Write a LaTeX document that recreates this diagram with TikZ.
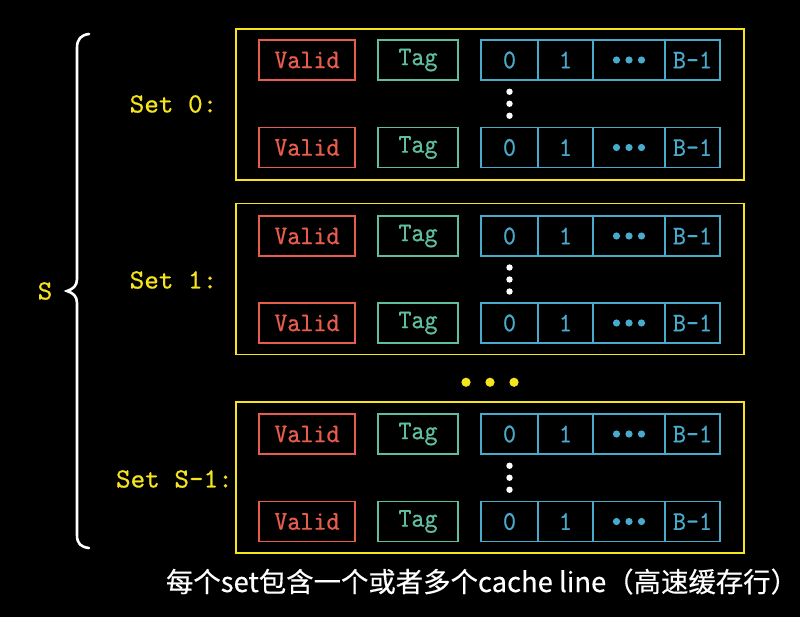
\documentclass[tikz,border=0pt]{standalone}
\usepackage{fontspec}
\newfontfamily\boxfont{lmmono10-regular}[Extension=.otf, FakeStretch=0.92, FakeBold=0.6]
\newfontfamily\lblfont{lmmono10-regular}[Extension=.otf, FakeBold=0.6]
\newfontfamily\cjk{Noto Sans CJK SC}[FakeBold=0.4]
\usetikzlibrary{calc}
\definecolor{ylw}{RGB}{245,228,30}
\definecolor{vred}{RGB}{232,92,76}
\definecolor{tgrn}{RGB}{96,190,160}
\definecolor{cblu}{RGB}{72,170,205}
\tikzset{
  setbox/.style={draw=ylw, line width=1.8pt, minimum width=508pt, minimum height=151pt, inner sep=0pt},
  boxtxt/.style={line width=1.6pt, inner sep=0pt, minimum height=40pt, font=\boxfont\fontsize{27}{27}\selectfont},
  validbox/.style={boxtxt, draw=vred, text=vred, minimum width=96pt},
  tagbox/.style={boxtxt, draw=tgrn, text=tgrn, minimum width=80pt},
  cellbox/.style={boxtxt, draw=cblu, text=cblu},
  setlbl/.style={text=ylw, anchor=east, inner sep=0pt, font=\lblfont\fontsize{27.8}{28}\selectfont},
}
\newcommand\cacherow[2]{%
  \node[validbox] (#1v) at (307,#2) {Valid};
  \node[tagbox] (#1t) at (418,#2) {Tag};
  \node[cellbox, minimum width=57pt] (#1c0) at (509.5,#2) {0};
  \node[cellbox, minimum width=55pt] (#1c1) at (565.5,#2) {1};
  \node[cellbox, minimum width=72pt] (#1c2) at (629,#2) {};
  \node[cellbox, minimum width=55pt] (#1c3) at (692.5,#2) {B-1};
  \fill[cblu] ($(#1c2.center)+(-12.5,0)$) circle (3.6)
              (#1c2.center) circle (3.6)
              ($(#1c2.center)+(12.5,0)$) circle (3.6);
}
\newcommand\vdotsbetween[2]{%
  \fill[white] ($(#1c0.center)!0.5!(#2c0.center)+(0,-12)$) circle (3.2)
               ($(#1c0.center)!0.5!(#2c0.center)$) circle (3.2)
               ($(#1c0.center)!0.5!(#2c0.center)+(0,12)$) circle (3.2);
}
\begin{document}
\begin{tikzpicture}[x=1pt,y=-1pt]
  \fill[black] (0,0) rectangle (800,617);
  \useasboundingbox (0,0) rectangle (800,617);

  % set boxes
  \node[setbox] (s0) at (490,104.5) {};
  \node[setbox] (s1) at (490,279) {};
  \node[setbox] (s2) at (490,477.5) {};

  % rows
  \cacherow{s0a}{60}
  \cacherow{s0b}{147.5}
  \vdotsbetween{s0a}{s0b}
  \cacherow{s1a}{236}
  \cacherow{s1b}{323}
  \vdotsbetween{s1a}{s1b}
  \cacherow{s2a}{434}
  \cacherow{s2b}{521.5}
  \vdotsbetween{s2a}{s2b}

  % yellow dots between sets
  \fill[ylw] ($(s1.south)!0.5!(s2.north)+(-24,4)$) circle (4.6)
             ($(s1.south)!0.5!(s2.north)+(0,4)$) circle (4.6)
             ($(s1.south)!0.5!(s2.north)+(24,4)$) circle (4.6);

  % set labels
  \node[setlbl] (l0) at (217.5,104) {Set 0:};
  \node[setlbl] (l1) at (217.5,280) {Set 1:};
  \node[setlbl] (l2) at (233,479) {Set S-1:};

  % brace
  \draw[white, line width=2.6pt, line cap=round]
    (89,34) .. controls (81,35) and (77,39) .. (77,48) -- (77,279)
    .. controls (77,286) and (73,289) .. (67,291)
    .. controls (73,293) and (77,296) .. (77,303) -- (77,535)
    .. controls (77,544) and (81,547) .. (89,548);
  \node[text=ylw, inner sep=0pt, font=\lblfont\fontsize{27.8}{28}\selectfont] (S) at (45,291) {S};

  % caption
  \node[text=white, inner sep=0pt, anchor=base, font=\cjk\fontsize{27.4}{29}\selectfont] (cap) at (482,592)
    {每个set包含一个或者多个cache line（高速缓存行）};
\end{tikzpicture}
\end{document}
